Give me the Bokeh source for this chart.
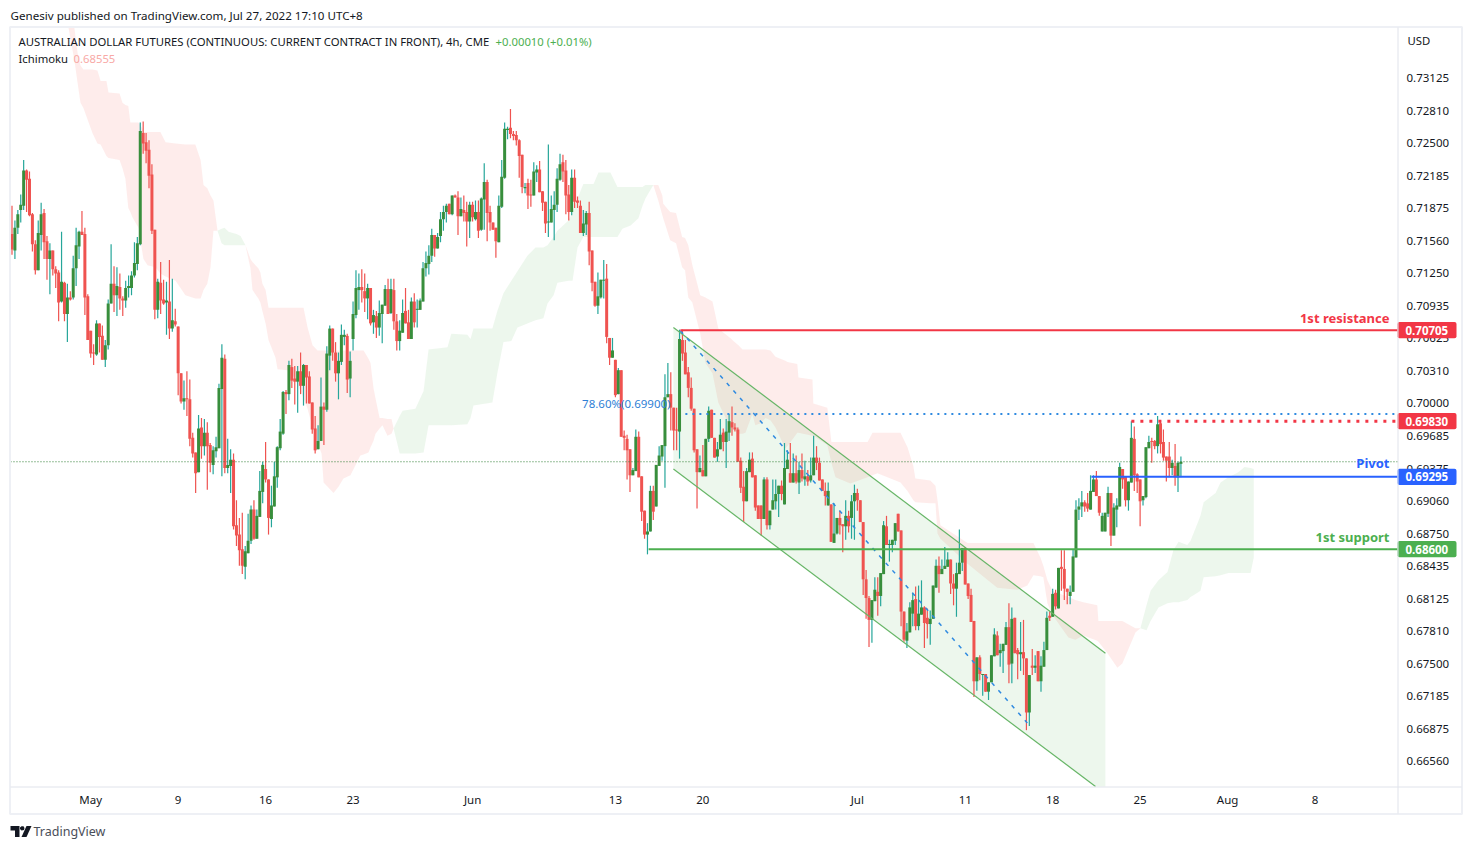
from bokeh.plotting import figure
from bokeh.models import Label, PolyAnnotation, BoxAnnotation, FixedTicker, NumeralTickFormatter, Range1d, ColumnDataSource, LinearAxis
from bokeh.embed import file_html
from bokeh.resources import INLINE

opens = [
0.7163,0.7147,0.7169,0.7186,0.7190,0.7224,0.7216,0.7182,0.7153,0.7128,
0.7162,0.7183,0.7156,0.7139,0.7147,0.7129,0.7126,0.7098,0.7116,0.7086,
0.7102,0.7102,0.7130,0.7151,0.7165,0.7163,0.7103,0.7070,0.7049,0.7047,
0.7077,0.7065,0.7042,0.7056,0.7096,0.7115,0.7104,0.7112,0.7101,0.7099,
0.7111,0.7111,0.7123,0.7134,0.7153,0.7260,0.7251,0.7244,0.7220,0.7167,
0.7090,0.7116,0.7100,0.7097,0.7098,0.7072,0.7079,0.7074,0.7029,0.7002,
0.7005,0.7004,0.6967,0.6953,0.6934,0.6977,0.6959,0.6972,0.6960,0.6941,
0.6954,0.6957,0.7014,0.7043,0.6938,0.6940,0.6946,0.6883,0.6874,0.6860,
0.6843,0.6856,0.6868,0.6898,0.6870,0.6891,0.6915,0.6937,0.6927,0.6889,
0.6901,0.6929,0.6957,0.6971,0.7011,0.7009,0.7035,0.7024,0.7021,0.7031,
0.7017,0.7037,0.7026,0.7001,0.6976,0.6956,0.6964,0.6997,0.6994,0.7046,
0.7072,0.7049,0.7029,0.7040,0.7064,0.7065,0.7024,0.7062,0.7085,0.7109,
0.7112,0.7108,0.7101,0.7111,0.7078,0.7084,0.7073,0.7086,0.7094,0.7110,
0.7087,0.7109,0.7079,0.7060,0.7068,0.7089,0.7078,0.7062,0.7098,0.7090,
0.7090,0.7098,0.7130,0.7134,0.7142,0.7162,0.7149,0.7161,0.7177,0.7184,
0.7192,0.7182,0.7200,0.7198,0.7180,0.7186,0.7184,0.7175,0.7191,0.7177,
0.7184,0.7167,0.7196,0.7213,0.7184,0.7174,0.7169,0.7155,0.7189,0.7217,
0.7263,0.7265,0.7259,0.7258,0.7253,0.7239,0.7207,0.7212,0.7201,0.7200,
0.7222,0.7225,0.7204,0.7194,0.7174,0.7174,0.7186,0.7191,0.7215,0.7232,
0.7224,0.7201,0.7184,0.7217,0.7195,0.7190,0.7164,0.7172,0.7183,0.7147,
0.7117,0.7094,0.7102,0.7118,0.7120,0.7063,0.7044,0.7042,0.7009,0.7032,
0.6969,0.6966,0.6956,0.6931,0.6935,0.6968,0.6930,0.6897,0.6874,0.6877,
0.6916,0.6901,0.6940,0.6949,0.6959,0.7006,0.7009,0.6996,0.6975,0.6973,
0.7061,0.7049,0.7030,0.7015,0.6995,0.6956,0.6934,0.6936,0.6930,0.6966,
0.6994,0.6967,0.6949,0.6956,0.6972,0.6963,0.6972,0.6982,0.6977,0.6975,
0.6945,0.6920,0.6906,0.6934,0.6947,0.6931,0.6902,0.6902,0.6889,0.6927,
0.6883,0.6898,0.6906,0.6913,0.6921,0.6903,0.6937,0.6933,0.6924,0.6933,
0.6924,0.6936,0.6927,0.6930,0.6926,0.6931,0.6948,0.6943,0.6927,0.6916,
0.6902,0.6903,0.6866,0.6875,0.6890,0.6884,0.6882,0.6892,0.6890,0.6906,
0.6914,0.6907,0.6886,0.6831,0.6813,0.6792,0.6810,0.6819,0.6815,0.6836,
0.6882,0.6864,0.6864,0.6868,0.6894,0.6878,0.6800,0.6772,0.6780,0.6798,
0.6812,0.6786,0.6797,0.6804,0.6794,0.6788,0.6793,0.6823,0.6844,0.6836,
0.6841,0.6843,0.6850,0.6827,0.6822,0.6836,0.6847,0.6861,0.6827,0.6816,
0.6791,0.6733,0.6756,0.6739,0.6740,0.6723,0.6732,0.6757,0.6777,0.6760,
0.6762,0.6768,0.6785,0.6750,0.6794,0.6763,0.6759,0.6761,0.6755,0.6703,
0.6748,0.6746,0.6762,0.6733,0.6747,0.6763,0.6796,0.6795,0.6818,0.6803,
0.6843,0.6841,0.6822,0.6815,0.6819,0.6852,0.6898,0.6901,0.6905,0.6904,
0.6898,0.6915,0.6927,0.6911,0.6877,0.6877,0.6894,0.6914,0.6873,0.6898,
0.6901,0.6937,0.6930,0.6907,0.6924,0.6966,0.6932,0.6927,0.6907,0.6910,
0.6957,0.6964,0.6964,0.6959,0.6981,0.6963,0.6949,0.6949,0.6938,0.6940,
0.6929,0.6942]

highs = [
0.7190,0.7176,0.7186,0.7201,0.7234,0.7225,0.7223,0.7183,0.7157,0.7176,
0.7193,0.7187,0.7161,0.7154,0.7147,0.7132,0.7128,0.7165,0.7117,0.7115,
0.7108,0.7142,0.7169,0.7166,0.7185,0.7169,0.7105,0.7070,0.7057,0.7080,
0.7077,0.7075,0.7061,0.7100,0.7153,0.7132,0.7131,0.7125,0.7103,0.7118,
0.7123,0.7127,0.7155,0.7160,0.7270,0.7271,0.7260,0.7253,0.7230,0.7167,
0.7120,0.7136,0.7119,0.7117,0.7138,0.7120,0.7091,0.7074,0.7029,0.7022,
0.7031,0.7023,0.6972,0.6953,0.6989,0.6986,0.6985,0.6982,0.6962,0.6959,
0.6968,0.7019,0.7057,0.7047,0.6966,0.6956,0.6952,0.6907,0.6890,0.6895,
0.6863,0.6894,0.6902,0.6907,0.6898,0.6935,0.6944,0.6963,0.6927,0.6921,
0.6944,0.6959,0.6985,0.7012,0.7013,0.7041,0.7043,0.7036,0.7036,0.7049,
0.7038,0.7037,0.7031,0.7001,0.6988,0.6979,0.7025,0.7001,0.7055,0.7075,
0.7072,0.7059,0.7049,0.7076,0.7071,0.7067,0.7050,0.7098,0.7128,0.7125,
0.7129,0.7125,0.7115,0.7111,0.7090,0.7089,0.7099,0.7095,0.7114,0.7120,
0.7120,0.7120,0.7086,0.7080,0.7100,0.7111,0.7090,0.7102,0.7106,0.7100,
0.7101,0.7136,0.7146,0.7152,0.7168,0.7162,0.7164,0.7184,0.7190,0.7192,
0.7192,0.7200,0.7201,0.7204,0.7198,0.7200,0.7194,0.7194,0.7194,0.7195,
0.7195,0.7198,0.7231,0.7215,0.7190,0.7174,0.7169,0.7200,0.7234,0.7270,
0.7266,0.7283,0.7262,0.7262,0.7254,0.7239,0.7212,0.7216,0.7215,0.7232,
0.7229,0.7233,0.7204,0.7194,0.7249,0.7200,0.7204,0.7226,0.7240,0.7239,
0.7234,0.7210,0.7225,0.7225,0.7199,0.7195,0.7186,0.7185,0.7194,0.7147,
0.7117,0.7126,0.7119,0.7138,0.7134,0.7063,0.7063,0.7042,0.7034,0.7032,
0.6974,0.6970,0.6956,0.6938,0.6975,0.6973,0.6930,0.6897,0.6885,0.6921,
0.6921,0.6941,0.6959,0.6960,0.7028,0.7039,0.7030,0.6996,0.6996,0.7071,
0.7071,0.7061,0.7035,0.7025,0.6995,0.6956,0.6950,0.6960,0.6966,0.6997,
0.6994,0.6967,0.6963,0.6985,0.6976,0.6985,0.6990,0.6997,0.6981,0.6977,
0.6948,0.6935,0.6938,0.6953,0.6953,0.6931,0.6902,0.6902,0.6929,0.6929,
0.6897,0.6927,0.6927,0.6921,0.6926,0.6962,0.6955,0.6962,0.6952,0.6950,
0.6944,0.6952,0.6945,0.6936,0.6948,0.6969,0.6959,0.6948,0.6927,0.6924,
0.6924,0.6903,0.6904,0.6890,0.6897,0.6884,0.6907,0.6897,0.6912,0.6922,
0.6918,0.6907,0.6886,0.6840,0.6815,0.6811,0.6833,0.6833,0.6837,0.6887,
0.6892,0.6869,0.6869,0.6885,0.6894,0.6878,0.6800,0.6789,0.6809,0.6818,
0.6824,0.6825,0.6830,0.6805,0.6803,0.6801,0.6825,0.6850,0.6853,0.6850,
0.6862,0.6857,0.6850,0.6836,0.6847,0.6879,0.6861,0.6862,0.6827,0.6822,
0.6791,0.6756,0.6758,0.6740,0.6740,0.6732,0.6758,0.6784,0.6781,0.6769,
0.6769,0.6790,0.6808,0.6804,0.6794,0.6765,0.6790,0.6792,0.6755,0.6739,
0.6764,0.6758,0.6762,0.6757,0.6771,0.6800,0.6800,0.6822,0.6821,0.6842,
0.6859,0.6859,0.6822,0.6825,0.6860,0.6907,0.6909,0.6916,0.6907,0.6914,
0.6931,0.6931,0.6935,0.6911,0.6895,0.6895,0.6920,0.6914,0.6904,0.6909,
0.6943,0.6937,0.6930,0.6925,0.6983,0.6978,0.6933,0.6927,0.6911,0.6958,
0.6969,0.6967,0.6965,0.6988,0.6984,0.6975,0.6949,0.6963,0.6946,0.6961,
0.6944,0.6949]

lows = [
0.7143,0.7139,0.7163,0.7174,0.7186,0.7184,0.7180,0.7146,0.7124,0.7128,
0.7147,0.7139,0.7119,0.7105,0.7123,0.7111,0.7079,0.7097,0.7079,0.7059,
0.7099,0.7100,0.7113,0.7139,0.7162,0.7085,0.7061,0.7044,0.7037,0.7046,
0.7049,0.7042,0.7035,0.7052,0.7096,0.7088,0.7084,0.7090,0.7084,0.7092,
0.7102,0.7104,0.7121,0.7128,0.7152,0.7240,0.7231,0.7207,0.7163,0.7081,
0.7082,0.7086,0.7095,0.7066,0.7062,0.7069,0.7074,0.7008,0.7000,0.6994,
0.6988,0.6959,0.6948,0.6914,0.6934,0.6947,0.6950,0.6917,0.6934,0.6932,
0.6948,0.6957,0.6930,0.6933,0.6933,0.6914,0.6879,0.6863,0.6844,0.6836,
0.6831,0.6856,0.6865,0.6869,0.6870,0.6891,0.6904,0.6924,0.6874,0.6881,
0.6901,0.6919,0.6955,0.6970,0.6990,0.7003,0.7015,0.6999,0.6991,0.7009,
0.6998,0.7000,0.7000,0.6971,0.6952,0.6956,0.6964,0.6960,0.6992,0.7032,
0.7041,0.7021,0.7004,0.7037,0.7056,0.7010,0.7006,0.7051,0.7082,0.7090,
0.7097,0.7088,0.7081,0.7075,0.7067,0.7063,0.7065,0.7058,0.7094,0.7086,
0.7086,0.7071,0.7051,0.7051,0.7068,0.7077,0.7062,0.7062,0.7073,0.7073,
0.7090,0.7098,0.7122,0.7124,0.7136,0.7141,0.7149,0.7155,0.7166,0.7174,
0.7182,0.7181,0.7198,0.7162,0.7180,0.7175,0.7151,0.7159,0.7175,0.7176,
0.7159,0.7166,0.7167,0.7156,0.7166,0.7167,0.7140,0.7155,0.7188,0.7216,
0.7254,0.7255,0.7253,0.7248,0.7217,0.7202,0.7202,0.7187,0.7189,0.7200,
0.7213,0.7203,0.7185,0.7164,0.7160,0.7174,0.7157,0.7184,0.7214,0.7213,
0.7182,0.7176,0.7181,0.7188,0.7188,0.7164,0.7161,0.7162,0.7133,0.7108,
0.7093,0.7086,0.7101,0.7101,0.7058,0.7037,0.7044,0.7006,0.7009,0.6968,
0.6955,0.6927,0.6915,0.6931,0.6935,0.6929,0.6887,0.6870,0.6855,0.6877,
0.6888,0.6901,0.6940,0.6945,0.6919,0.7006,0.6974,0.6955,0.6955,0.6947,
0.7041,0.7028,0.7006,0.6993,0.6953,0.6899,0.6934,0.6930,0.6930,0.6963,
0.6967,0.6948,0.6944,0.6956,0.6954,0.6938,0.6964,0.6969,0.6973,0.6944,
0.6914,0.6886,0.6906,0.6934,0.6929,0.6897,0.6889,0.6873,0.6889,0.6879,
0.6879,0.6898,0.6898,0.6891,0.6907,0.6903,0.6937,0.6924,0.6924,0.6923,
0.6913,0.6925,0.6921,0.6921,0.6924,0.6931,0.6936,0.6926,0.6916,0.6902,
0.6902,0.6867,0.6866,0.6874,0.6874,0.6857,0.6869,0.6876,0.6870,0.6869,
0.6897,0.6886,0.6816,0.6793,0.6766,0.6770,0.6810,0.6796,0.6805,0.6836,
0.6864,0.6848,0.6857,0.6864,0.6877,0.6786,0.6771,0.6765,0.6780,0.6786,
0.6782,0.6782,0.6797,0.6765,0.6774,0.6768,0.6793,0.6823,0.6818,0.6836,
0.6841,0.6843,0.6817,0.6806,0.6795,0.6836,0.6839,0.6826,0.6812,0.6790,
0.6718,0.6724,0.6734,0.6719,0.6723,0.6715,0.6732,0.6757,0.6758,0.6747,
0.6741,0.6768,0.6731,0.6731,0.6760,0.6735,0.6743,0.6739,0.6686,0.6690,
0.6739,0.6741,0.6733,0.6723,0.6747,0.6763,0.6791,0.6795,0.6802,0.6803,
0.6820,0.6811,0.6807,0.6807,0.6819,0.6852,0.6888,0.6891,0.6896,0.6896,
0.6898,0.6915,0.6911,0.6892,0.6877,0.6877,0.6891,0.6863,0.6873,0.6881,
0.6901,0.6918,0.6901,0.6897,0.6924,0.6916,0.6914,0.6882,0.6902,0.6909,
0.6957,0.6943,0.6956,0.6952,0.6952,0.6945,0.6925,0.6929,0.6931,0.6921,
0.6915,0.6929]

closes = [
0.7148,0.7169,0.7182,0.7191,0.7224,0.7215,0.7181,0.7153,0.7128,0.7164,
0.7182,0.7155,0.7139,0.7147,0.7129,0.7125,0.7097,0.7117,0.7086,0.7102,
0.7100,0.7130,0.7152,0.7165,0.7162,0.7102,0.7061,0.7048,0.7048,0.7077,
0.7064,0.7042,0.7056,0.7096,0.7115,0.7104,0.7113,0.7101,0.7099,0.7111,
0.7113,0.7123,0.7135,0.7154,0.7262,0.7250,0.7243,0.7219,0.7166,0.7090,
0.7117,0.7099,0.7096,0.7099,0.7072,0.7080,0.7076,0.7029,0.7002,0.7005,
0.7004,0.6966,0.6952,0.6933,0.6976,0.6959,0.6972,0.6959,0.6943,0.6955,
0.6958,0.7015,0.7044,0.6938,0.6941,0.6946,0.6882,0.6873,0.6859,0.6844,
0.6858,0.6868,0.6898,0.6870,0.6892,0.6916,0.6941,0.6927,0.6890,0.6902,
0.6930,0.6958,0.6973,0.7011,0.7009,0.7037,0.7022,0.7021,0.7031,0.7017,
0.7037,0.7025,0.7000,0.6975,0.6955,0.6964,0.6997,0.6994,0.7048,0.7072,
0.7049,0.7029,0.7041,0.7066,0.7066,0.7023,0.7041,0.7086,0.7111,0.7112,
0.7109,0.7101,0.7111,0.7077,0.7085,0.7073,0.7087,0.7095,0.7110,0.7086,
0.7110,0.7079,0.7060,0.7070,0.7087,0.7077,0.7062,0.7098,0.7078,0.7091,
0.7099,0.7130,0.7135,0.7142,0.7162,0.7149,0.7160,0.7177,0.7184,0.7190,
0.7182,0.7200,0.7198,0.7180,0.7187,0.7183,0.7175,0.7191,0.7179,0.7184,
0.7166,0.7197,0.7213,0.7183,0.7174,0.7167,0.7156,0.7190,0.7218,0.7264,
0.7264,0.7259,0.7257,0.7253,0.7238,0.7208,0.7208,0.7200,0.7200,0.7223,
0.7225,0.7203,0.7193,0.7173,0.7175,0.7187,0.7191,0.7216,0.7230,0.7223,
0.7200,0.7184,0.7217,0.7194,0.7193,0.7164,0.7173,0.7183,0.7146,0.7116,
0.7094,0.7103,0.7119,0.7119,0.7064,0.7044,0.7051,0.7008,0.7032,0.6968,
0.6967,0.6955,0.6931,0.6936,0.6968,0.6929,0.6896,0.6874,0.6877,0.6916,
0.6896,0.6941,0.6950,0.6960,0.7006,0.7009,0.6996,0.6974,0.6974,0.7062,
0.7048,0.7028,0.7015,0.6995,0.6955,0.6934,0.6938,0.6930,0.6966,0.6993,
0.6967,0.6948,0.6956,0.6970,0.6963,0.6973,0.6983,0.6977,0.6975,0.6944,
0.6919,0.6906,0.6935,0.6946,0.6929,0.6900,0.6889,0.6889,0.6927,0.6883,
0.6897,0.6907,0.6913,0.6921,0.6913,0.6938,0.6946,0.6924,0.6933,0.6925,
0.6936,0.6928,0.6930,0.6925,0.6931,0.6948,0.6943,0.6926,0.6916,0.6911,
0.6916,0.6867,0.6875,0.6890,0.6883,0.6882,0.6892,0.6882,0.6906,0.6914,
0.6907,0.6886,0.6831,0.6813,0.6792,0.6811,0.6821,0.6815,0.6837,0.6883,
0.6864,0.6865,0.6869,0.6885,0.6877,0.6800,0.6773,0.6781,0.6804,0.6811,
0.6786,0.6798,0.6804,0.6789,0.6788,0.6793,0.6825,0.6844,0.6836,0.6841,
0.6844,0.6850,0.6827,0.6822,0.6837,0.6847,0.6861,0.6826,0.6815,0.6790,
0.6733,0.6756,0.6740,0.6740,0.6723,0.6732,0.6758,0.6778,0.6758,0.6763,
0.6769,0.6785,0.6749,0.6793,0.6760,0.6759,0.6761,0.6755,0.6703,0.6739,
0.6746,0.6748,0.6733,0.6748,0.6763,0.6794,0.6794,0.6817,0.6805,0.6842,
0.6841,0.6822,0.6819,0.6819,0.6853,0.6898,0.6901,0.6905,0.6901,0.6899,
0.6916,0.6927,0.6911,0.6895,0.6892,0.6895,0.6914,0.6873,0.6900,0.6902,
0.6939,0.6927,0.6907,0.6925,0.6967,0.6931,0.6925,0.6906,0.6911,0.6958,
0.6963,0.6963,0.6959,0.6980,0.6961,0.6948,0.6945,0.6938,0.6943,0.6929,
0.6943,0.6944]

# Ichimoku cloud: bar number, upper span, lower span
red1_bar = [19.4,20.8,21.4,22.5,23.5,24.5,27.6,29.3,30.4,32.4,33.1,36.9,37.9,38.9,39.9,40.6,41.3,43.4,44.8,45.1,46.5,49.2,50.9,52.7,56.1,59.5,62.9,64.7,65.7,67,68.1,69.1,70.5]
red1_top = [.7361,.7361,.7361,.7337,.7325,.7321,.7321,.7320,.7310,.7310,.7299,.7298,.7289,.7287,.7286,.7270,.7270,.7270,.7264,.7261,.7261,.7261,.7261,.7251,.7250,.7249,.7249,.7234,.7210,.7207,.7200,.7195,.7166]
red1_bot = [.7361,.7339,.7330,.7308,.7289,.7284,.7260,.7250,.7249,.7238,.7236,.7234,.7226,.7216,.7188,.7184,.7179,.7169,.7144,.7139,.7133,.7131,.7125,.7122,.7118,.7104,.7101,.7101,.7109,.7115,.7131,.7166,.7166]
green1_bar = [70.5,71.9,72.9,74.3,77,78.4,80.1]
green1_top = [.7166,.7168,.7169,.7165,.7163,.7161,.7152]
green1_bot = [.7166,.7154,.7152,.7152,.7152,.7152,.7152]
red2_bar = [80.1,81.8,82.5,84.5,85.2,85.9,87,88,90.4,91.1,94.5,95.5,99,100,101.4,103.1,104.8,106.2,106.9,110.3,112,113.7,116.1,119.5,120.6,122.3,123,124,124.7,126.1,127.1,128.8,130.2,130.9]
red2_top = [.7152,.7139,.7136,.7130,.7126,.7115,.7109,.7092,.7092,.7092,.7092,.7092,.7092,.7092,.7073,.7056,.7051,.7051,.7051,.7051,.7051,.7051,.7051,.7051,.7051,.7043,.7039,.7015,.7005,.6986,.6986,.6985,.6985,.6976]
red2_bot = [.7152,.7130,.7109,.7101,.7097,.7089,.7077,.7061,.7044,.7033,.7032,.7032,.7012,.7005,.6995,.6977,.6962,.6952,.6924,.6914,.6920,.6928,.6931,.6950,.6951,.6953,.6958,.6964,.6971,.6976,.6979,.6969,.6971,.6976]
green2_bar = [130.9,133,134,138.4,141.2,142.9,149.4,150.7,156.2,157.3,158.3,164.8,166.5,168.6,171.3,173.4,176.8,179.6,182.3,183.7,185.8,187.1,190.9,192.3,194,196,199.5,201.2,205.3,207.7,209.4,212.2,214.9,216.3,217.3,220]
green2_top = [.6976,.6988,.6993,.6995,.7012,.7052,.7054,.7067,.7066,.7062,.7072,.7072,.7089,.7106,.7118,.7127,.7142,.7150,.7150,.7152,.7160,.7166,.7176,.7184,.7197,.7211,.7211,.7222,.7222,.7208,.7208,.7208,.7208,.7208,.7210,.7210]
green2_bot = [.6976,.6952,.6952,.6952,.6953,.6979,.6979,.6979,.6980,.6986,.6998,.7001,.7029,.7059,.7060,.7073,.7077,.7080,.7082,.7096,.7104,.7116,.7118,.7118,.7150,.7160,.7160,.7160,.7160,.7160,.7168,.7171,.7178,.7190,.7197,.7210]
red3_bar = [220,221.7,223.1,223.4,225.8,227.8,229.9,230.9,232,233.4,236.1,237.9,240.3,242.3,246.4,247.5,249.2,250.6,251.6,254,255,256.8,258.5,260.2,261.9,265.3,266,269.4,269.8,274.6,274.9,279.7,281.1,282.5,287.6,293.5,295.2,296.9,304.8,307.2,309.2,309.9,315,316.8,317.5,318.5,327.8,338,344.9,348.3,350.4,352.8,353.8,355.2,356.9,362.4,364.8,367.5,372.3,372.7,375.8,379.2,380.9,385.4,387.1]
red3_top = [.7210,.7210,.7200,.7192,.7184,.7183,.7160,.7159,.7152,.7133,.7104,.7102,.7098,.7072,.7063,.7060,.7056,.7052,.7052,.7052,.7052,.7052,.7052,.7051,.7045,.7041,.7040,.7038,.7025,.7023,.7000,.6996,.6963,.6963,.6963,.6963,.6972,.6972,.6972,.6958,.6940,.6928,.6926,.6921,.6907,.6883,.6866,.6866,.6866,.6866,.6866,.6852,.6844,.6830,.6820,.6814,.6811,.6809,.6806,.6791,.6791,.6791,.6791,.6784,.6784]
red3_bot = [.7210,.7195,.7181,.7178,.7157,.7154,.7131,.7128,.7102,.7097,.7067,.7039,.7029,.7001,.6977,.6975,.6971,.6971,.6972,.6990,.6979,.6981,.6986,.6984,.6977,.6957,.6959,.6972,.6972,.6969,.6969,.6960,.6943,.6929,.6923,.6929,.6931,.6933,.6924,.6916,.6907,.6905,.6904,.6904,.6875,.6870,.6846,.6823,.6821,.6825,.6835,.6834,.6833,.6808,.6797,.6775,.6773,.6777,.6772,.6771,.6760,.6746,.6750,.6780,.6784]
green3_bar = [387.1,389.2,390.6,393.3,396.4,398.4,400.2,403.2,404.3,406.7,407.7,408.8,412.9,414.6,417.3,418.7,420.7,422.8,424.9,426]
green3_top = [.6784,.6806,.6820,.6830,.6838,.6859,.6867,.6864,.6868,.6885,.6892,.6905,.6914,.6924,.6929,.6931,.6934,.6939,.6938,.6937]
green3_bot = [.6784,.6782,.6791,.6804,.6808,.6809,.6809,.6811,.6814,.6818,.6820,.6833,.6834,.6835,.6837,.6837,.6837,.6837,.6837,.6852]

# Drawings
upper_bars = [226.9, 375.1]
channel_upper = [0.7073, 0.6760]
lower_bars = [226.9, 371.7]
channel_lower = [0.6937, 0.66319]
fill_bars = [226.9, 371.7, 375.1]
fill_upper = [0.7073, 0.6767, 0.6760]
fill_lower = [0.6937, 0.66319, 0.66319]
fib_bars = [229.3, 348.3]
fib_prices = [0.7070, 0.6693]
fib_level = 0.69900
resistance, r_start = 0.70705, 229.3
dotted_res, d_start = 0.69830, 384
pivot, p_start = 0.69295, 370.3
support, s_start = 0.68600, 218.4

price_ticks = [0.73125,0.72810,0.72500,0.72185,0.71875,0.71560,0.71250,0.70935,0.70625,0.70310,0.70000,0.69685,0.69375,0.69060,0.68750,0.68435,0.68125,0.67810,0.67500,0.67185,0.66875,0.66560]
time_labels = ["May","9","16","23","Jun","13","20","Jul","11","18","25","Aug","8"]
time_bars = [27,57,87,117,158,207,237,290,327,357,387,417,447]

FONT = "Noto Sans"
INK = "#131722"
PANE_LEFT, PANE_RIGHT, PANE_BOTTOM = -0.515, 475.3, 0.663186
W, H = 1463, 841

p = figure(width=W, height=H, output_backend="svg", toolbar_location=None,
           x_range=Range1d(-3.945, 497.94), y_range=Range1d(0.657899, 0.738736),
           min_border=0, min_border_left=0, min_border_right=0, min_border_top=0, min_border_bottom=0)
p.grid.visible = False
p.outline_line_color = None
p.background_fill_color = "white"

xa = p.xaxis[0]
xa.fixed_location = PANE_BOTTOM
xa.ticker = FixedTicker(ticks=time_bars)
xa.major_label_overrides = dict(zip(time_bars, time_labels))
xa.axis_line_color = None
xa.major_tick_line_color = None
xa.minor_tick_line_color = None
xa.major_label_standoff = 0
xa.major_label_text_font = FONT
xa.major_label_text_font_size = "11.5px"
xa.major_label_text_color = INK

p.yaxis.visible = False
ax = LinearAxis(ticker=FixedTicker(ticks=price_ticks), formatter=NumeralTickFormatter(format="0.00000"),
                fixed_location=PANE_RIGHT)
ax.axis_line_color = None
ax.major_tick_line_color = None
ax.minor_tick_line_color = None
ax.major_label_standoff = 3
ax.major_label_text_font = FONT
ax.major_label_text_font_size = "11.5px"
ax.major_label_text_color = INK
p.add_layout(ax, "right")

RED_CLOUD = "#f44336"; GREEN_CLOUD = "#4caf50"
for b, t, l, c in [(red1_bar, red1_top, red1_bot, RED_CLOUD), (green1_bar, green1_top, green1_bot, GREEN_CLOUD),
                   (red2_bar, red2_top, red2_bot, RED_CLOUD), (green2_bar, green2_top, green2_bot, GREEN_CLOUD),
                   (red3_bar, red3_top, red3_bot, RED_CLOUD), (green3_bar, green3_top, green3_bot, GREEN_CLOUD)]:
    p.varea(x=b, y1=t, y2=l, fill_color=c, fill_alpha=0.1)

p.varea(x=fill_bars, y1=fill_upper, y2=fill_lower, fill_color="#4caf50", fill_alpha=0.1)

bars = list(range(len(opens)))
up = [c >= o for o, c in zip(opens, closes)]
src = ColumnDataSource(dict(
    x=bars, high=highs, low=lows,
    top=[max(o, c) for o, c in zip(opens, closes)],
    bottom=[min(o, c) for o, c in zip(opens, closes)],
    body=["#388e3c" if u else "#ef5350" for u in up],
    wick=["#26a69a" if u else "#ef5350" for u in up]))
p.segment(x0="x", x1="x", y0="low", y1="high", line_color="wick", line_width=1.2, source=src)
p.vbar(x="x", width=1.03, top="top", bottom="bottom", fill_color="body", line_color=None, source=src)

# last price, channel, fib
p.line([PANE_LEFT, PANE_RIGHT], [closes[-1]]*2, line_color="#2e7d32", line_width=1, line_dash=[1, 2])
p.line(upper_bars, channel_upper, line_color="#66b566", line_width=1.2)
p.line(lower_bars, channel_lower, line_color="#66b566", line_width=1.2)
p.line(fib_bars, fib_prices, line_color="#2f8ae0", line_width=1.5, line_dash=[4, 6])
p.line([fib_bars[0]+1.7, PANE_RIGHT], [fib_level]*2, line_color="#2f8ae0", line_width=2, line_dash=[2, 5])
p.line([r_start, PANE_RIGHT], [resistance]*2, line_color="#f23645", line_width=2)
p.line([d_start, PANE_RIGHT], [dotted_res]*2, line_color="#f23645", line_width=3, line_dash=[3, 6])
p.line([p_start, PANE_RIGHT], [pivot]*2, line_color="#2962ff", line_width=2)
p.line([s_start, PANE_RIGHT], [support]*2, line_color="#4caf50", line_width=2)

def sx(px): return px
def sy(py): return H - py

def text(px, py, s, color=INK, size="11.3px", style="normal", align="left"):
    p.add_layout(Label(x=sx(px), y=sy(py), x_units="screen", y_units="screen", text=s, text_color=color,
                       text_font=FONT, text_font_size=size, text_font_style=style,
                       text_align=align, text_baseline="middle"))

text(10, 15, "Genesiv published on TradingView.com, Jul 27, 2022 17:10 UTC+8", size="11.6px")
text(18, 41, "AUSTRALIAN DOLLAR FUTURES (CONTINUOUS: CURRENT CONTRACT IN FRONT), 4h, CME")
text(495, 41, "+0.00010 (+0.01%)", color="#4caf50")
text(18, 58, "Ichimoku")
text(73, 58, "0.68555", color="#f8a9a6")
text(1407, 40, "USD")
text(33, 831, "TradingView", color="#4a4e59", size="12.5px")
text(1389, 317, "1st resistance", color="#f23645", size="13px", style="bold", align="right")
text(1389, 462, "Pivot", color="#2962ff", size="13px", style="bold", align="right")
text(1389, 536, "1st support", color="#4caf50", size="13px", style="bold", align="right")
p.add_layout(Label(x=sx(670), y=fib_level + 0.00098, x_units="screen", y_units="data", text="78.60%(0.69900)",
                   text_color="#2f7fd6", text_font=FONT, text_font_size="11.5px",
                   text_align="right", text_baseline="middle"))

for price, col in [(resistance, "#f23645"), (dotted_res, "#f23645"), (pivot, "#2962ff"), (support, "#4caf50")]:
    p.add_layout(BoxAnnotation(left=sx(1397), right=sx(1456), left_units="screen", right_units="screen",
                               top=price + 0.00078, bottom=price - 0.00078,
                               fill_color=col, fill_alpha=1, line_color=None, border_radius=2))
    p.add_layout(Label(x=sx(1405), y=price, x_units="screen", y_units="data", text=f"{price:.5f}", text_color="white",
                       text_font=FONT, text_font_size="11.5px", text_font_style="bold", text_baseline="middle"))

def poly(xs, ys, fill=None, line=None, lw=1):
    p.add_layout(PolyAnnotation(xs=[sx(v) for v in xs], ys=[sy(v) for v in ys], xs_units="screen", ys_units="screen",
                                fill_color=fill, fill_alpha=1 if fill else 0, line_color=line, line_width=lw,
                                line_alpha=1 if line else 0))

# frame lines
poly([9.5, 1461.5, 1461.5, 9.5], [26.5, 26.5, 813.5, 813.5], line="#eef0f5", lw=2)
poly([10, 1461], [786.5, 786.5], line="#e0e3eb")
poly([1397.5, 1397.5], [27, 813], line="#e0e3eb")
# TradingView mark
poly([10, 19, 19, 14.5, 14.5, 10], [825.5, 825.5, 836.5, 836.5, 830, 830], fill="#131722")
poly([26, 31, 26, 21], [825.5, 825.5, 836.5, 836.5], fill="#131722")
poly([19.5, 21, 23, 24, 23.5, 21, 19.5], [827, 825.7, 825.7, 827.5, 829.5, 830, 828.5], fill="#131722")

open("out.html", "w").write(file_html(p, INLINE))
